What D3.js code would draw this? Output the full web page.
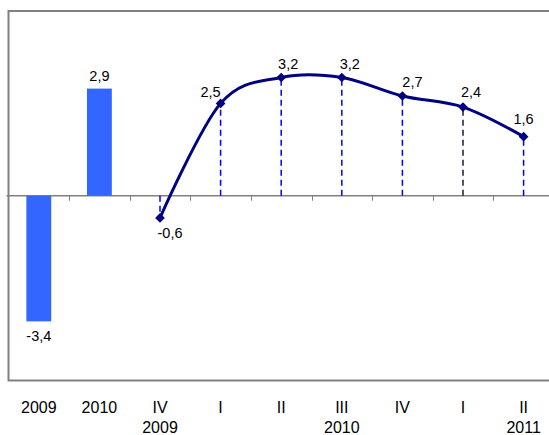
<!DOCTYPE html>
<html>
<head>
<meta charset="utf-8">
<script src="https://cdn.jsdelivr.net/npm/d3@7"></script>
<style>
  html, body { margin: 0; padding: 0; background: #fff; }
  svg { display: block; font-family: "Liberation Sans", Arial, sans-serif; }
</style>
</head>
<body>
<svg id="chart" width="549" height="435"></svg>
<script>
// ---- data ----
const categories = ["2009", "2010", "IV 2009", "I 2010", "II 2010", "III 2010", "IV 2010", "I 2011", "II 2011"];
const tickLine1 = ["2009", "2010", "IV", "I", "II", "III", "IV", "I", "II"];
const tickLine2 = ["", "", "2009", "", "", "2010", "", "", "2011"];
const annualCats = ["2009", "2010"];
const annualValues = [-3.4, 2.9];
const quarterCats = ["IV 2009", "I 2010", "II 2010", "III 2010", "IV 2010", "I 2011", "II 2011"];
const quarterValues = [-0.6, 2.5, 3.2, 3.2, 2.7, 2.4, 1.6];
const yDomain = [-5, 5];

// ---- layout ----
const W = 549, H = 435;
const plotLeft = 8.5, plotTop = 11, plotBottom = 380.5, step = 60.6;
const svg = d3.select("#chart");

const x = d3.scaleBand().domain(categories).range([plotLeft, plotLeft + step * categories.length]);
const y = d3.scaleLinear().domain(yDomain).range([plotBottom, plotTop]);
const cx = c => x(c) + x.bandwidth() / 2;
const fmt = v => String(v).replace(".", ",");

// frame
svg.append("path")
  .attr("d", `M${W + 2},${plotTop} H${plotLeft} V${plotBottom} H${W + 2}`)
  .attr("fill", "none").attr("stroke", "#808080").attr("stroke-width", 2);

// zero line + ticks
svg.append("line")
  .attr("x1", plotLeft - 2).attr("x2", W + 2)
  .attr("y1", y(0)).attr("y2", y(0))
  .attr("stroke", "#808080").attr("stroke-width", 1.5);
svg.selectAll("line.tick").data(categories.slice(1)).enter().append("line")
  .attr("class", "tick")
  .attr("x1", d => Math.round(x(d)) + 0.5).attr("x2", d => Math.round(x(d)) + 0.5)
  .attr("y1", y(0)).attr("y2", y(0) + 5)
  .attr("stroke", "#808080").attr("stroke-width", 1);

// bars
const barW = x.bandwidth() * 0.41;
const annual = annualCats.map((c, i) => ({ c, v: annualValues[i] }));
svg.selectAll("rect.bar").data(annual).enter().append("rect")
  .attr("class", "bar")
  .attr("x", d => cx(d.c) - barW / 2)
  .attr("width", barW)
  .attr("y", d => y(Math.max(0, d.v)))
  .attr("height", d => Math.abs(y(d.v) - y(0)))
  .attr("fill", "#3366FF");
svg.selectAll("text.barlab").data(annual).enter().append("text")
  .attr("class", "barlab")
  .attr("x", d => cx(d.c))
  .attr("y", d => d.v >= 0 ? y(d.v) - 8 : y(d.v) + 20)
  .attr("text-anchor", "middle")
  .attr("font-size", 14.5).attr("fill", "#000")
  .text(d => fmt(d.v));

// quarterly series
const quarter = quarterCats.map((c, i) => ({ c, v: quarterValues[i] }));
const dropColors = ["#0000FF", "#0000FF", "#0000FF", "#0000FF", "#0000FF", "#1a1a40", "#0000FF"];
svg.selectAll("line.drop").data(quarter).enter().append("line")
  .attr("class", "drop")
  .attr("x1", d => cx(d.c)).attr("x2", d => cx(d.c))
  .attr("y1", y(0)).attr("y2", d => y(d.v))
  .attr("stroke", (d, i) => dropColors[i])
  .attr("stroke-width", 1.5)
  .attr("stroke-dasharray", "6,4");

const line = d3.line()
  .x(d => cx(d.c)).y(d => y(d.v))
  .curve(d3.curveCatmullRom.alpha(0));
svg.append("path").datum(quarter)
  .attr("d", line)
  .attr("fill", "none").attr("stroke", "#000080").attr("stroke-width", 3);

const diamond = d3.symbol().type(d3.symbolDiamond2).size(60);
svg.selectAll("path.mk").data(quarter).enter().append("path")
  .attr("class", "mk")
  .attr("transform", d => `translate(${cx(d.c)},${y(d.v)})`)
  .attr("d", diamond)
  .attr("fill", "#000080");

const labDx = [10, -10, 7, 8, 10, 8, 0];
const labDy = [20, -6, -9, -9, -9, -10, -13];
svg.selectAll("text.qlab").data(quarter).enter().append("text")
  .attr("class", "qlab")
  .attr("x", (d, i) => cx(d.c) + labDx[i])
  .attr("y", (d, i) => y(d.v) + labDy[i])
  .attr("text-anchor", "middle")
  .attr("font-size", 14.5).attr("fill", "#000")
  .text(d => fmt(d.v));

// category labels
const lab = svg.append("g").attr("font-size", 16).attr("fill", "#000").attr("text-anchor", "middle");
lab.selectAll("text.l1").data(categories).enter().append("text")
  .attr("class", "l1")
  .attr("x", d => cx(d)).attr("y", 413)
  .text((d, i) => tickLine1[i]);
lab.selectAll("text.l2").data(categories.filter((d, i) => tickLine2[i])).enter().append("text")
  .attr("class", "l2")
  .attr("x", d => cx(d)).attr("y", 433)
  .text(d => tickLine2[categories.indexOf(d)]);
</script>
</body>
</html>
